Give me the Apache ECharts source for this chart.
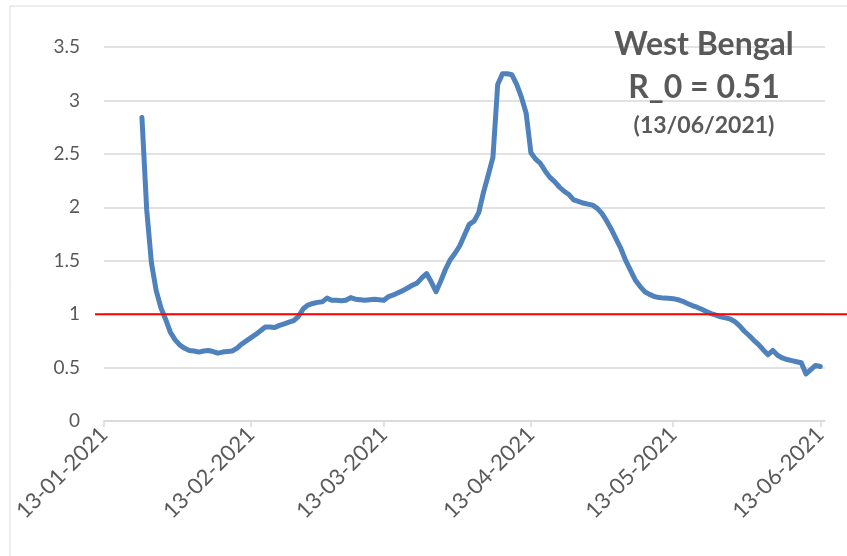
<!DOCTYPE html>
<html><head><meta charset="utf-8">
<script src="https://cdn.jsdelivr.net/npm/echarts@6/dist/echarts.min.js"></script>
<style>html,body{margin:0;padding:0;background:#fff}#c{width:847px;height:556px}</style>
</head><body><div id="c"></div>
<script>
// ---- data ----
const titleLines = ['West Bengal', 'R_0 = 0.51', '(13/06/2021)'];
const firstDate = '21-01-2021';            // first daily value
const rValues = [
  2.84, 1.98, 1.48, 1.22, 1.06, 0.95, 0.83, 0.76, 0.71, 0.68,
  0.66, 0.655, 0.645, 0.655, 0.66, 0.65, 0.635, 0.645, 0.65, 0.655,
  0.68, 0.72, 0.75, 0.78, 0.81, 0.845, 0.88, 0.88, 0.875, 0.895,
  0.91, 0.925, 0.94, 0.98, 1.05, 1.085, 1.10, 1.11, 1.115, 1.15,
  1.13, 1.13, 1.125, 1.13, 1.155, 1.14, 1.135, 1.13, 1.135, 1.14,
  1.135, 1.13, 1.165, 1.18, 1.20, 1.22, 1.245, 1.27, 1.29, 1.34,
  1.38, 1.30, 1.21, 1.31, 1.42, 1.51, 1.57, 1.64, 1.74, 1.84,
  1.87, 1.95, 2.14, 2.30, 2.47, 3.15, 3.25, 3.25, 3.24, 3.15,
  3.03, 2.88, 2.51, 2.45, 2.41, 2.34, 2.28, 2.24, 2.19, 2.15,
  2.12, 2.07, 2.055, 2.04, 2.03, 2.02, 1.99, 1.94, 1.87, 1.79,
  1.70, 1.61, 1.50, 1.41, 1.32, 1.26, 1.21, 1.185, 1.165, 1.155,
  1.15, 1.148, 1.145, 1.135, 1.12, 1.10, 1.08, 1.065, 1.045, 1.025,
  1.005, 0.99, 0.975, 0.965, 0.955, 0.93, 0.89, 0.84, 0.80, 0.755,
  0.715, 0.665, 0.62, 0.66, 0.615, 0.59, 0.575, 0.565, 0.555, 0.545,
  0.44, 0.48, 0.52, 0.51
];
const tickLabels = ['13-01-2021', '13-02-2021', '13-03-2021', '13-04-2021', '13-05-2021', '13-06-2021'];
const axisEndDate = '14-06-2021';
const yMin = 0, yMax = 3.5, yStep = 0.5;
const thresholdValue = 1;

// ---- helpers: x is measured in days since the first tick date ----
const DAY = 86400000;
function parseDMY(s) { const p = s.split('-').map(Number); return Date.UTC(p[2], p[1] - 1, p[0]); }
const origin = parseDMY(tickLabels[0]);
const toDay = (s) => Math.round((parseDMY(s) - origin) / DAY);
const firstDay = toDay(firstDate);
const seriesData = rValues.map((v, i) => [firstDay + i, v]);
const tickDays = tickLabels.map(toDay);
const labelByDay = {};
tickLabels.forEach((s, i) => { labelByDay[tickDays[i]] = s; });

const chart = echarts.init(document.getElementById('c'), null, { renderer: 'canvas' });
const grey = '#595959';
const font = 'Lato, "Liberation Sans", sans-serif';

chart.setOption({
  animation: false,
  backgroundColor: '#ffffff',
  grid: { left: 104, right: 22, top: 47, bottom: 135, containLabel: false },
  xAxis: {
    type: 'value',
    min: 0,
    max: toDay(axisEndDate),
    axisLine: { show: true, lineStyle: { color: '#d9d9d9', width: 1.5 } },
    axisTick: { show: true, customValues: tickDays, length: 6, lineStyle: { color: '#d9d9d9', width: 1.5 } },
    axisLabel: {
      customValues: tickDays, rotate: 45, margin: 10,
      color: grey, fontSize: 22, fontFamily: font,
      formatter: (v) => labelByDay[Math.round(v)] || ''
    },
    splitLine: { show: false }
  },
  yAxis: {
    type: 'value', min: yMin, max: yMax, interval: yStep,
    axisLine: { show: false }, axisTick: { show: false },
    axisLabel: { color: grey, fontSize: 19, fontFamily: font, margin: 24 },
    splitLine: { lineStyle: { color: '#d9d9d9', width: 1.5 } }
  },
  series: [{
    type: 'line', data: seriesData, showSymbol: false, smooth: false,
    lineStyle: { color: '#4f81bd', width: 5, join: 'round', cap: 'round' },
    z: 3
  }]
});

const yRef = chart.convertToPixel({ yAxisIndex: 0 }, thresholdValue);
const titleX = 704;
chart.setOption({
  graphic: [
    { type: 'rect', shape: { x: 10, y: 6, width: 900, height: 600 }, style: { fill: 'none', stroke: '#d9d9d9', lineWidth: 1 }, z: 0, silent: true },
    { type: 'line', shape: { x1: 95, y1: yRef, x2: 847, y2: yRef }, style: { stroke: '#ff0000', lineWidth: 2 }, z: 10, silent: true },
    { type: 'text', x: titleX, y: 45, style: { text: titleLines[0], fill: grey, font: 'bold 32px ' + font, align: 'center', verticalAlign: 'middle' }, z: 10 },
    { type: 'text', x: titleX, y: 88, style: { text: titleLines[1], fill: grey, font: 'bold 32px ' + font, align: 'center', verticalAlign: 'middle' }, z: 10 },
    { type: 'text', x: titleX, y: 126, style: { text: titleLines[2], fill: grey, font: 'bold 23px ' + font, align: 'center', verticalAlign: 'middle' }, z: 10 }
  ]
});
</script>
</body></html>
